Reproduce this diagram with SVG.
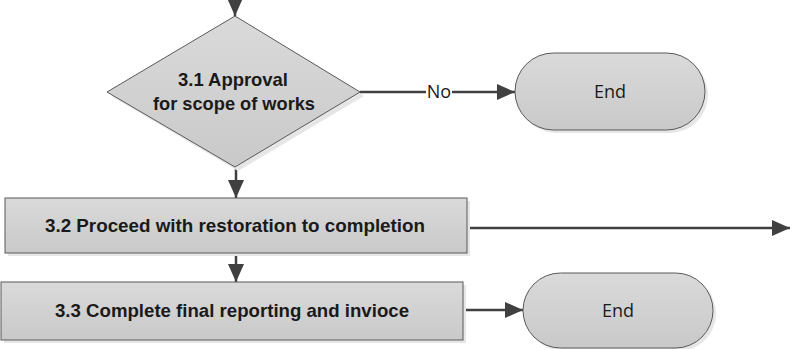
<svg xmlns="http://www.w3.org/2000/svg" width="796" height="349" viewBox="0 0 796 349">
  <defs>
    <linearGradient id="fillGrad" x1="0" y1="0" x2="0" y2="1">
      <stop offset="0" stop-color="#dadada"/>
      <stop offset="1" stop-color="#c9c9c9"/>
    </linearGradient>
    <marker id="arrow" markerUnits="userSpaceOnUse" markerWidth="18" markerHeight="16" refX="18" refY="8" orient="auto">
      <path d="M0,0 L18,8 L0,16 Z" fill="#404040"/>
    </marker>
  </defs>
  <style>
    .shape { fill: url(#fillGrad); stroke: #595959; stroke-width: 1; }
    .shadow { fill: #e6e6e6; }
    .conn { stroke: #404040; stroke-width: 2.5; fill: none; }
    .lbl { font-family: "Liberation Sans", Arial, sans-serif; font-weight: bold; font-size: 19px; fill: #1a1a1a; text-anchor: middle; }
    .term { font-family: "Open Sans", "Liberation Sans", sans-serif; font-size: 18px; fill: #1a1a1a; text-anchor: middle; }
  </style>

  <!-- connectors -->
  <g id="connectors">
    <line class="conn" x1="235" y1="0" x2="235" y2="16" marker-end="url(#arrow)"/>
    <line class="conn" x1="360" y1="92" x2="515" y2="92" marker-end="url(#arrow)"/>
    <rect x="426" y="82" width="26" height="20" fill="#ffffff"/>
    <text class="term" x="439" y="98" font-size="17">No</text>
    <line class="conn" x1="236" y1="167" x2="236" y2="198" marker-end="url(#arrow)"/>
    <line class="conn" x1="467" y1="228" x2="790" y2="228" marker-end="url(#arrow)"/>
    <line class="conn" x1="236" y1="253" x2="236" y2="282" marker-end="url(#arrow)"/>
    <line class="conn" x1="463" y1="310" x2="523" y2="310" marker-end="url(#arrow)"/>
  </g>

  <!-- 3.1 decision -->
  <g id="decision-3-1">
    <polygon class="shadow" points="238,20 364,96 238,171 111,96"/>
    <polygon class="shape" points="235,16 360,92 235,167 107,92"/>
    <text class="lbl" x="233" y="86" textLength="110" lengthAdjust="spacingAndGlyphs">3.1 Approval</text>
    <text class="lbl" x="234" y="110" textLength="162" lengthAdjust="spacingAndGlyphs">for scope of works</text>
  </g>

  <!-- End (No branch) -->
  <g id="end-1">
    <rect class="shadow" x="518" y="56" width="190" height="77" rx="38.5"/>
    <rect class="shape" x="515" y="53" width="190" height="77" rx="38.5"/>
    <text class="term" x="610" y="98">End</text>
  </g>

  <!-- 3.2 process -->
  <g id="process-3-2">
    <rect class="shadow" x="8" y="201" width="462" height="55"/>
    <rect class="shape" x="5" y="198" width="462" height="55"/>
    <text class="lbl" x="235" y="232" textLength="380" lengthAdjust="spacingAndGlyphs">3.2 Proceed with restoration to completion</text>
  </g>

  <!-- 3.3 process -->
  <g id="process-3-3">
    <rect class="shadow" x="4" y="285" width="462" height="58"/>
    <rect class="shape" x="1" y="282" width="462" height="58"/>
    <text class="lbl" x="232" y="317" textLength="354" lengthAdjust="spacingAndGlyphs">3.3 Complete final reporting and invioce</text>
  </g>

  <!-- End (after 3.3) -->
  <g id="end-2">
    <rect class="shadow" x="526" y="276" width="190" height="75" rx="37.5"/>
    <rect class="shape" x="523" y="273" width="190" height="75" rx="37.5"/>
    <text class="term" x="618" y="317">End</text>
  </g>
</svg>
